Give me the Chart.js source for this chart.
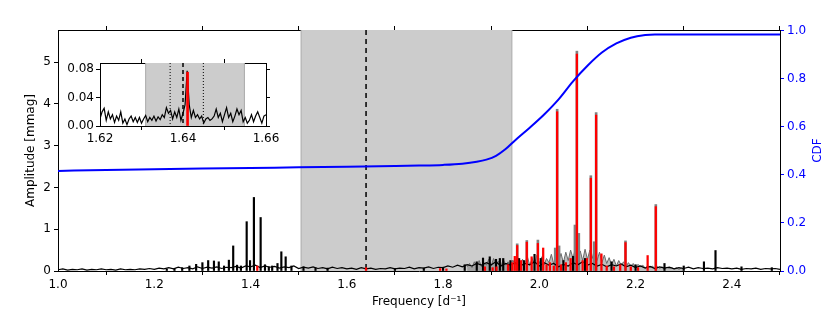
<!DOCTYPE html>
<html>
<head>
<meta charset="utf-8">
<script src="https://cdn.jsdelivr.net/npm/chart.js@4.4.0/dist/chart.umd.min.js"></script>
<style>
  html, body { margin: 0; padding: 0; background: #fff; }
  #wrap { position: relative; width: 830px; height: 316px; }
  #main { position: absolute; left: 0; top: 0; }
  #inset { position: absolute; left: 56px; top: 50px; }
</style>
</head>
<body>
<div id="wrap">
  <canvas id="main" width="830" height="316"></canvas>
  <canvas id="inset" width="230" height="100"></canvas>
</div>
<script>
// ---- axis ticks ----
const xTicks = [1.0, 1.2, 1.4, 1.6, 1.8, 2.0, 2.2, 2.4];
const ampTicks = [0, 1, 2, 3, 4, 5];
const cdfTicks = [0.0, 0.2, 0.4, 0.6, 0.8, 1.0];
const insetXTicks = [1.62, 1.64, 1.66];
const insetYTicks = [0.0, 0.04, 0.08];

// ---- residual spectrum (black), sampled every 0.01 d-1 from 1.00 ----
const noiseStart = 1.0;
const noiseStep = 0.01;
const blackNoise = [
  0.03, 0.05, 0.02, 0.04, 0.03, 0.05, 0.02, 0.04, 0.03, 0.05, 0.03, 0.04, 0.02, 0.05, 0.03, 0.04, 0.03, 0.05, 0.04, 0.06,
  0.04, 0.07, 0.05, 0.08, 0.05, 0.09, 0.06, 0.08, 0.05, 0.10, 0.06, 0.09, 0.07, 0.10, 0.06, 0.09, 0.08, 0.11, 0.07, 0.12,
  0.10, 0.14, 0.08, 0.12, 0.09, 0.11, 0.07, 0.10, 0.08, 0.12, 0.06, 0.09, 0.07, 0.10, 0.06, 0.08, 0.05, 0.09, 0.06, 0.08,
  0.05, 0.07, 0.04, 0.08, 0.05, 0.07, 0.04, 0.06, 0.05, 0.08, 0.05, 0.07, 0.06, 0.09, 0.05, 0.08, 0.07, 0.10, 0.06, 0.09,
  0.08, 0.12, 0.09, 0.14, 0.10, 0.15, 0.12, 0.18, 0.14, 0.20, 0.15, 0.22, 0.12, 0.18, 0.14, 0.20, 0.12, 0.18, 0.15, 0.22,
  0.12, 0.20, 0.14, 0.18, 0.10, 0.16, 0.12, 0.20, 0.15, 0.22, 0.14, 0.18, 0.12, 0.16, 0.10, 0.15, 0.12, 0.17, 0.10, 0.14,
  0.08, 0.12, 0.07, 0.11, 0.06, 0.10, 0.07, 0.09, 0.05, 0.08, 0.06, 0.09, 0.05, 0.08, 0.06, 0.07, 0.05, 0.08, 0.06, 0.07,
  0.05, 0.07, 0.04, 0.06, 0.05, 0.07, 0.04, 0.06, 0.05, 0.06, 0.04
];
const blackPeakFreq = [1.226, 1.242, 1.258, 1.273, 1.287, 1.300, 1.312, 1.324, 1.334, 1.345,
  1.355, 1.364, 1.372, 1.380, 1.392, 1.399, 1.407, 1.421, 1.430, 1.438,
  1.445, 1.456, 1.464, 1.473, 1.485, 1.510, 1.535, 1.560, 1.700, 1.760,
  1.800, 1.845, 1.870, 1.883, 1.897, 1.910, 1.918, 1.925, 1.940, 1.958,
  1.968, 1.990, 2.003, 2.050, 2.070, 2.095, 2.150, 2.200, 2.260, 2.300,
  2.342, 2.366, 2.420, 2.483];
const blackPeakAmp = [0.05, 0.06, 0.08, 0.12, 0.16, 0.20, 0.25, 0.24, 0.22, 0.12,
  0.26, 0.60, 0.14, 0.12, 1.18, 0.25, 1.76, 1.28, 0.15, 0.10,
  0.12, 0.18, 0.46, 0.34, 0.12, 0.10, 0.07, 0.07, 0.06, 0.07,
  0.09, 0.15, 0.22, 0.31, 0.34, 0.28, 0.30, 0.30, 0.25, 0.30,
  0.25, 0.40, 0.30, 0.25, 0.35, 0.30, 0.22, 0.15, 0.18, 0.12,
  0.22, 0.49, 0.10, 0.08];

// ---- original spectrum (grey), every 0.005 d-1 from 1.85 ----
const grayStart = 1.85;
const grayStep = 0.005;
const grayNoise = [
  0.10, 0.18, 0.08, 0.22, 0.12, 0.25, 0.10, 0.20, 0.14, 0.28,
  0.12, 0.30, 0.15, 0.24, 0.10, 0.28, 0.14, 0.22, 0.12, 0.26,
  0.15, 0.32, 0.12, 0.28, 0.18, 0.35, 0.14, 0.30, 0.16, 0.38,
  0.18, 0.34, 0.15, 0.30, 0.20, 0.40, 0.16, 0.36, 0.22, 0.42,
  0.20, 0.45, 0.25, 0.50, 0.30, 0.55, 0.35, 0.48, 0.25, 0.52,
  0.28, 0.50, 0.30, 0.55, 0.25, 0.45, 0.20, 0.38, 0.18, 0.32,
  0.15, 0.28, 0.12, 0.25, 0.14, 0.22, 0.10, 0.20, 0.12, 0.18,
  0.08, 0.16, 0.10, 0.14, 0.07, 0.13, 0.08, 0.12, 0.06, 0.11,
  0.06, 0.10, 0.05, 0.09, 0.06, 0.08, 0.05, 0.08, 0.04, 0.07,
  0.05
];
const grayPeakFreq = [1.954, 1.974, 1.997, 2.033, 2.037, 2.041, 2.074, 2.078, 2.082, 2.107, 2.114, 2.118, 2.179, 2.242];
const grayPeakAmp = [0.65, 0.73, 0.74, 0.55, 3.87, 0.60, 1.10, 5.26, 0.90, 2.28, 0.70, 3.79, 0.72, 1.59];

// ---- extracted frequencies (red) ----
const redPeakFreq = [1.414, 1.640, 1.794, 1.807, 1.887, 1.903, 1.911, 1.935, 1.944, 1.949,
  1.954, 1.962, 1.974, 1.984, 1.997, 2.008, 2.015, 2.022, 2.030, 2.037,
  2.045, 2.055, 2.065, 2.078, 2.090, 2.099, 2.107, 2.118, 2.129, 2.140,
  2.155, 2.168, 2.179, 2.190, 2.205, 2.225, 2.242];
const redPeakAmp = [0.12, 0.08, 0.06, 0.05, 0.10, 0.08, 0.10, 0.15, 0.20, 0.35,
  0.61, 0.25, 0.69, 0.34, 0.66, 0.55, 0.15, 0.20, 0.12, 3.81,
  0.15, 0.20, 0.30, 5.19, 0.25, 0.30, 2.22, 3.73, 0.41, 0.12,
  0.10, 0.15, 0.68, 0.10, 0.08, 0.37, 1.54];

// ---- cumulative distribution (blue, right axis) ----
const cdfFreq = [1.00, 1.10, 1.20, 1.30, 1.40, 1.50, 1.60, 1.70, 1.75, 1.80, 1.84, 1.87, 1.89, 1.91,
  1.93, 1.95, 1.98, 2.01, 2.04, 2.07, 2.10, 2.13, 2.16, 2.19, 2.22, 2.24, 2.26, 2.50];
const cdfValue = [0.417, 0.421, 0.424, 0.427, 0.429, 0.432, 0.434, 0.437, 0.439, 0.442, 0.447, 0.455, 0.464, 0.480,
  0.508, 0.545, 0.597, 0.652, 0.715, 0.790, 0.855, 0.910, 0.948, 0.972, 0.983, 0.985, 0.985, 0.985];

const shadeRange = [1.505, 1.943];
const markFreq = 1.64;

// ---- inset: zoom around 1.64, every 0.0005 d-1 from 1.62 ----
const insetStart = 1.62;
const insetStep = 0.0005;
const insetAmp = [
  0.010, 0.020, 0.025, 0.008, 0.020, 0.010, 0.016, 0.005, 0.014, 0.008,
  0.020, 0.004, 0.010, 0.002, 0.010, 0.014, 0.006, 0.012, 0.005, 0.012,
  0.004, 0.010, 0.015, 0.006, 0.012, 0.008, 0.014, 0.007, 0.013, 0.009,
  0.016, 0.012, 0.026, 0.018, 0.022, 0.010, 0.020, 0.012, 0.024, 0.008,
  0.018, 0.030, 0.078, 0.030, 0.012, 0.022, 0.012, 0.016, 0.010, 0.014,
  0.004, 0.010, 0.012, 0.008, 0.010, 0.014, 0.024, 0.012, 0.018, 0.006,
  0.016, 0.026, 0.012, 0.018, 0.006, 0.014, 0.024, 0.016, 0.022, 0.006,
  0.012, 0.004, 0.008, 0.016, 0.006, 0.014, 0.020, 0.012, 0.004, 0.014,
  0.016
];
const insetPeakFreq = [1.6411];
const insetPeakAmp = [0.076];
const insetShade = [1.631, 1.6548];
const insetDotted = [1.6369, 1.6449];

Chart.defaults.font.family = "'DejaVu Sans', sans-serif";
Chart.defaults.font.size = 12;
Chart.defaults.color = "#000";

const pts = (xs, ys) => xs.map((x, i) => ({ x: x, y: ys[i] }));
const grid = (start, step, ys) => ys.map((y, i) => ({ x: +(start + i * step).toFixed(5), y: y }));
const fixTicks = (vals) => (s) => { s.ticks = vals.map((v) => ({ value: v })); };

// shaded window + marker lines, drawn under the data
const bandPlugin = {
  id: "band",
  beforeDatasetsDraw(chart, args, opts) {
    const { ctx, chartArea: a } = chart;
    const sx = chart.scales.x;
    ctx.save();
    ctx.beginPath();
    ctx.rect(a.left, a.top, a.width, a.height);
    ctx.clip();
    const x0 = sx.getPixelForValue(opts.range[0]);
    const x1 = sx.getPixelForValue(opts.range[1]);
    ctx.fillStyle = "#cccccc";
    ctx.fillRect(x0, a.top, x1 - x0, a.height);
    ctx.strokeStyle = "#aaaaaa";
    ctx.lineWidth = 1;
    [x0, x1].forEach((px) => {
      ctx.beginPath();
      ctx.moveTo(px, a.top);
      ctx.lineTo(px, a.bottom);
      ctx.stroke();
    });
    ctx.strokeStyle = "#000";
    (opts.dotted || []).forEach((v) => {
      const px = sx.getPixelForValue(v);
      ctx.setLineDash([1, 2]);
      ctx.lineWidth = 1;
      ctx.beginPath();
      ctx.moveTo(px, a.top);
      ctx.lineTo(px, a.bottom);
      ctx.stroke();
    });
    const pm = sx.getPixelForValue(opts.mark);
    ctx.setLineDash(opts.dash);
    ctx.lineWidth = 1.5;
    ctx.beginPath();
    ctx.moveTo(pm, a.top);
    ctx.lineTo(pm, a.bottom);
    ctx.stroke();
    ctx.restore();
  },
};

// matplotlib-style right label, reading bottom to top
const cdfLabelPlugin = {
  id: "cdfLabel",
  afterDraw(chart) {
    const { ctx, chartArea: a } = chart;
    ctx.save();
    ctx.translate(818, (a.top + a.bottom) / 2);
    ctx.rotate(-Math.PI / 2);
    ctx.fillStyle = "#0000ff";
    ctx.font = "12px 'DejaVu Sans'";
    ctx.textAlign = "center";
    ctx.textBaseline = "middle";
    ctx.fillText("CDF", 0, 0);
    ctx.restore();
  },
};

const edgeAxis = (extra) =>
  Object.assign(
    {
      grid: { drawOnChartArea: false, tickLength: 4, tickColor: "#000", tickWidth: 1 },
      border: { display: true, color: "#000", width: 1 },
    },
    extra
  );

new Chart(document.getElementById("main"), {
  type: "bar",
  data: {
    datasets: [
      {
        type: "line",
        data: pts(cdfFreq, cdfValue),
        yAxisID: "y1",
        borderColor: "#0000ff",
        borderWidth: 2,
        pointRadius: 0,
        cubicInterpolationMode: "monotone",
        order: 0,
      },
      { type: "bar", data: pts(redPeakFreq, redPeakAmp), backgroundColor: "#ff0000", barThickness: 1.6, order: 1 },
      { type: "bar", data: pts(blackPeakFreq, blackPeakAmp), backgroundColor: "#000", barThickness: 1.5, order: 2 },
      {
        type: "line",
        data: grid(noiseStart, noiseStep, blackNoise),
        borderColor: "#000",
        borderWidth: 1.2,
        pointRadius: 0,
        order: 3,
      },
      { type: "bar", data: pts(grayPeakFreq, grayPeakAmp), backgroundColor: "#808080", barThickness: 2, order: 4 },
      {
        type: "line",
        data: grid(grayStart, grayStep, grayNoise),
        borderColor: "#6a6a6a",
        backgroundColor: "rgba(110,110,110,0.45)",
        borderWidth: 1,
        fill: "origin",
        pointRadius: 0,
        order: 5,
      },
    ],
  },
  options: {
    responsive: false,
    animation: false,
    devicePixelRatio: 1,
    layout: { padding: 0 },
    datasets: { bar: { grouped: false } },
    plugins: {
      legend: { display: false },
      tooltip: { enabled: false },
      band: { range: shadeRange, mark: markFreq, dash: [5, 4] },
    },
    scales: {
      x: edgeAxis({
        type: "linear",
        position: "bottom",
        min: 1.0,
        max: 2.5,
        offset: false,
        afterBuildTicks: fixTicks(xTicks),
        ticks: { callback: (v) => v.toFixed(1), padding: 3, maxRotation: 0, autoSkip: false },
        title: { display: true, text: "Frequency [d\u207B\u00B9]", padding: { top: 0, bottom: 7 } },
        afterFit: (s) => { s.height = 45; },
      }),
      xTop: edgeAxis({
        type: "linear",
        position: "top",
        min: 1.0,
        max: 2.5,
        offset: false,
        afterBuildTicks: fixTicks(xTicks),
        ticks: { display: false },
        afterFit: (s) => { s.height = 30; },
      }),
      y: edgeAxis({
        type: "linear",
        position: "left",
        min: 0,
        max: 5.766,
        afterBuildTicks: fixTicks(ampTicks),
        ticks: { callback: (v) => String(v), padding: 3 },
        title: { display: true, text: "Amplitude [mmag]", padding: { top: 24, bottom: 0 } },
        afterFit: (s) => { s.width = 58; },
      }),
      y1: edgeAxis({
        type: "linear",
        position: "right",
        min: 0,
        max: 1.004,
        afterBuildTicks: fixTicks(cdfTicks),
        grid: { drawOnChartArea: false, tickLength: 4, tickColor: "#0000ff", tickWidth: 1 },
        ticks: { callback: (v) => v.toFixed(1), color: "#0000ff", padding: 3 },
        afterFit: (s) => { s.width = 50; },
      }),
    },
  },
  plugins: [bandPlugin, cdfLabelPlugin],
});

new Chart(document.getElementById("inset"), {
  type: "bar",
  data: {
    datasets: [
      { type: "bar", data: pts(insetPeakFreq, insetPeakAmp), backgroundColor: "#ff0000", barThickness: 2, order: 0 },
      {
        type: "line",
        data: grid(insetStart, insetStep, insetAmp),
        borderColor: "#000",
        borderWidth: 1.2,
        pointRadius: 0,
        order: 1,
      },
    ],
  },
  options: {
    responsive: false,
    animation: false,
    devicePixelRatio: 1,
    layout: { padding: 0 },
    datasets: { bar: { grouped: false } },
    plugins: {
      legend: { display: false },
      tooltip: { enabled: false },
      band: { range: insetShade, mark: markFreq, dotted: insetDotted, dash: [4, 3] },
    },
    scales: {
      x: edgeAxis({
        type: "linear",
        position: "bottom",
        min: 1.62,
        max: 1.66,
        offset: false,
        afterBuildTicks: fixTicks(insetXTicks),
        ticks: { callback: (v) => v.toFixed(2), padding: 2, maxRotation: 0, autoSkip: false },
        afterFit: (s) => { s.height = 24; },
      }),
      xTop: edgeAxis({
        type: "linear",
        position: "top",
        min: 1.62,
        max: 1.66,
        offset: false,
        afterBuildTicks: fixTicks(insetXTicks),
        ticks: { display: false },
        afterFit: (s) => { s.height = 13; },
      }),
      y: edgeAxis({
        type: "linear",
        position: "left",
        min: 0,
        max: 0.089,
        afterBuildTicks: fixTicks(insetYTicks),
        ticks: { callback: (v) => v.toFixed(2), padding: 2 },
        afterFit: (s) => { s.width = 44; },
      }),
      yRight: edgeAxis({
        type: "linear",
        position: "right",
        min: 0,
        max: 0.089,
        afterBuildTicks: fixTicks(insetYTicks),
        ticks: { display: false },
        afterFit: (s) => { s.width = 20; },
      }),
    },
  },
  plugins: [bandPlugin],
});
</script>
</body>
</html>
